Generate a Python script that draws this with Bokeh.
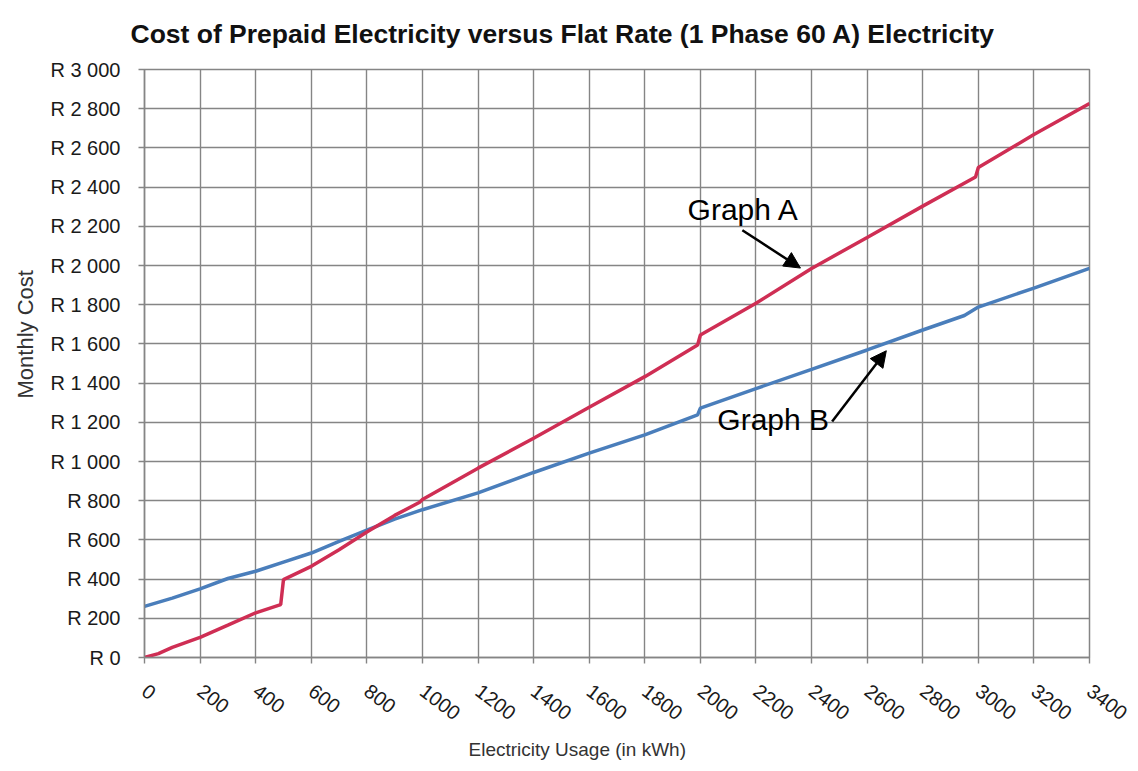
from bokeh.plotting import figure
from bokeh.models import Range1d, FixedTicker, Label, Arrow, NormalHead, Title
from bokeh.embed import file_html
from bokeh.resources import INLINE

# ---- data ----
usage_a = [0, 50, 100, 200, 300, 400, 490, 500, 600, 700, 800, 900, 990, 1000,
           1200, 1400, 1600, 1800, 1990, 2000, 2200, 2400, 2600, 2800, 2990, 3000,
           3200, 3400]
cost_a = [0, 20, 52, 103, 165, 228, 270, 397, 465, 550, 640, 725, 792, 806,
          966, 1119, 1277, 1433, 1594, 1645, 1807, 1985, 2143, 2303, 2452, 2500,
          2668, 2826]

usage_b = [0, 100, 200, 300, 400, 500, 600, 700, 800, 900, 1000, 1200, 1400,
           1600, 1800, 1990, 2000, 2200, 2400, 2600, 2800, 2950, 3000, 3200, 3400]
cost_b = [261, 303, 350, 403, 440, 487, 533, 592, 650, 706, 754, 840, 944,
          1043, 1136, 1238, 1272, 1372, 1470, 1569, 1671, 1745, 1788, 1885, 1985]

x_ticks = [0, 200, 400, 600, 800, 1000, 1200, 1400, 1600, 1800, 2000, 2200,
           2400, 2600, 2800, 3000, 3200, 3400]
y_ticks = [0, 200, 400, 600, 800, 1000, 1200, 1400, 1600, 1800, 2000, 2200,
           2400, 2600, 2800, 3000]
y_tick_labels = ["R 0", "R 200", "R 400", "R 600", "R 800", "R 1 000", "R 1 200",
                 "R 1 400", "R 1 600", "R 1 800", "R 2 000", "R 2 200", "R 2 400",
                 "R 2 600", "R 2 800", "R 3 000"]

title_text = "Cost of Prepaid Electricity versus Flat Rate (1 Phase 60 A) Electricity"
x_label = "Electricity Usage (in kWh)"
y_label = "Monthly Cost"

# annotation anchors (data units)
label_a = ("Graph A", 1954, 2288)
arrow_a = (2151, 2180, 2360, 1987)
label_b = ("Graph B", 2061, 1215)
arrow_b = (2474, 1204, 2669, 1565)

FONT = "Liberation Sans"
GRID = "#858585"

p = figure(width=1136, height=771, output_backend="svg", toolbar_location=None,
           x_range=Range1d(0, 3400), y_range=Range1d(0, 3000),
           min_border_left=144, min_border_right=47, min_border_top=69,
           min_border_bottom=113)

p.title.text = title_text
p.title.text_font = FONT
p.title.text_font_size = "26.5px"
p.title.text_font_style = "bold"
p.title.text_color = "#111111"
p.title.align = "left"
p.title.offset = -14
p.title.vertical_align = "top"
p.title.standoff = 37

p.outline_line_color = GRID
p.outline_line_width = 1.5
p.background_fill_color = "white"
p.border_fill_color = "white"

for g in (p.xgrid, p.ygrid):
    g.grid_line_color = GRID
    g.grid_line_width = 1.4
p.xgrid.ticker = FixedTicker(ticks=x_ticks)
p.ygrid.ticker = FixedTicker(ticks=y_ticks)

xa = p.xaxis[0]
xa.ticker = FixedTicker(ticks=x_ticks)
xa.major_label_orientation = -0.65
ya = p.yaxis[0]
ya.ticker = FixedTicker(ticks=y_ticks)
ya.major_label_overrides = {t: s for t, s in zip(y_ticks, y_tick_labels)}

for ax in (xa, ya):
    ax.axis_line_color = GRID
    ax.axis_line_width = 1.4
    ax.major_tick_line_color = GRID
    ax.major_tick_line_width = 1.4
    ax.major_tick_out = 6
    ax.major_tick_in = 0
    ax.minor_tick_line_color = None
    ax.major_label_text_font = FONT
    ax.major_label_text_font_size = "20px"
    ax.major_label_text_color = "#1a1a1a"
xa.major_label_standoff = 25
ya.major_label_standoff = 18

# axis titles as side titles (so they can be offset like the reference)
p.add_layout(Title(text=x_label, align="left", offset=324, standoff=19,
                   vertical_align="top",
                   text_font=FONT, text_font_size="19px", text_font_style="normal",
                   text_color="#333333"), "below")
p.add_layout(Title(text=y_label, align="left", offset=259, standoff=20,
                   text_font=FONT, text_font_size="22px", text_font_style="normal",
                   text_color="#333333"), "left")

p.line(usage_b, cost_b, line_color="#4A7EBB", line_width=3.5)
p.line(usage_a, cost_a, line_color="#CF2E54", line_width=3.5)

for (txt, lx, ly) in (label_a, label_b):
    p.add_layout(Label(x=lx, y=ly, text=txt, text_font=FONT, text_font_size="30px",
                       text_color="black", text_baseline="alphabetic"))
for (x0, y0, x1, y1) in (arrow_a, arrow_b):
    p.add_layout(Arrow(end=NormalHead(size=16, fill_color="black", line_color="black"),
                       x_start=x0, y_start=y0, x_end=x1, y_end=y1,
                       line_color="black", line_width=2.5))

open("out.html", "w").write(file_html(p, INLINE))
